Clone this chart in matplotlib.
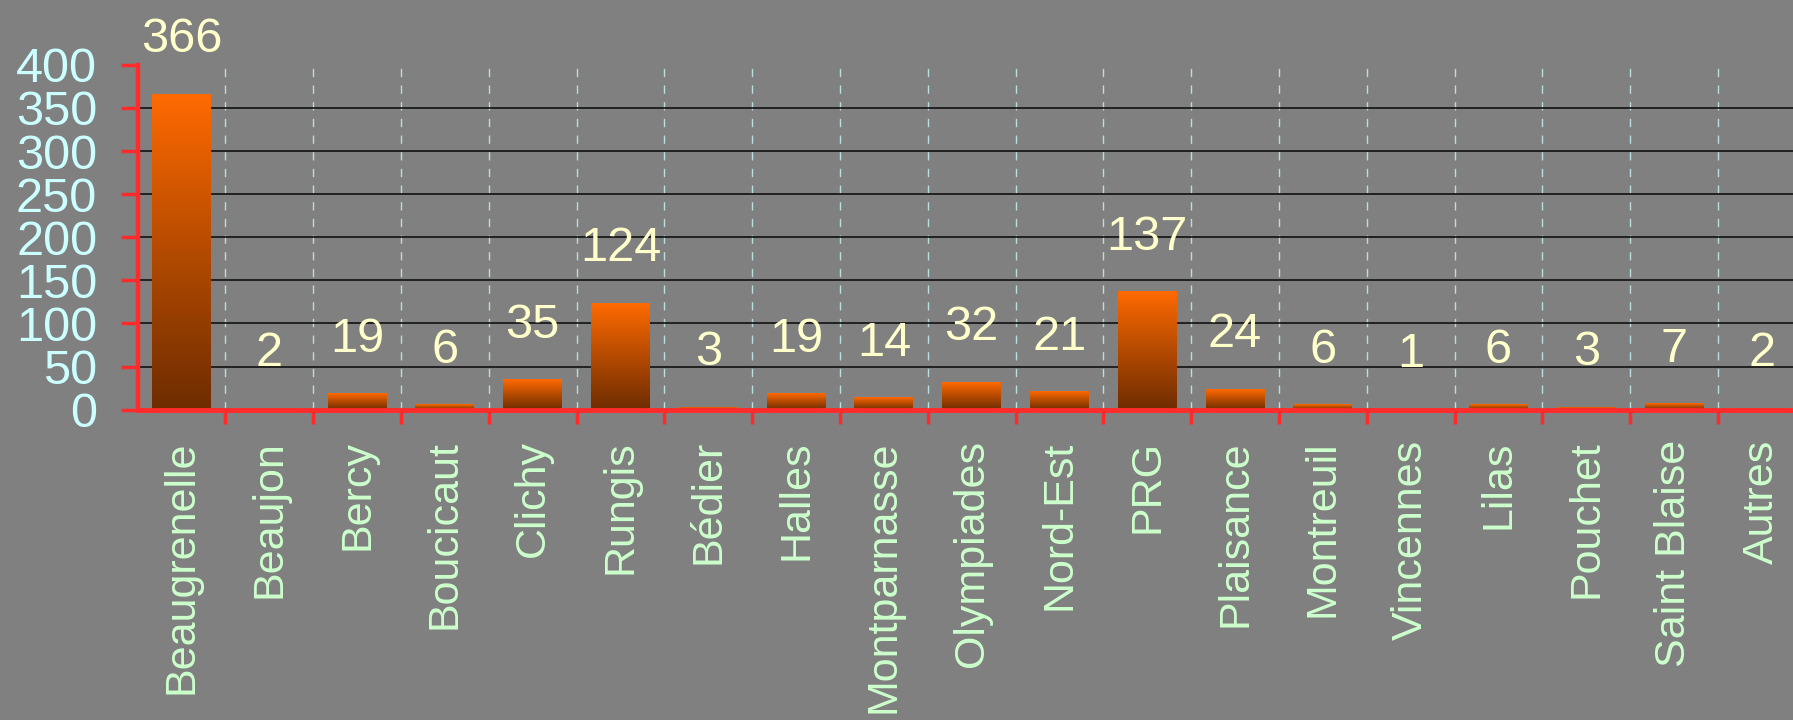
import numpy as np
import matplotlib.pyplot as plt
from matplotlib.colors import LinearSegmentedColormap

# Données
sites = ["Beaugrenelle", "Beaujon", "Bercy", "Boucicaut", "Clichy", "Rungis",
         "Bédier", "Halles", "Montparnasse", "Olympiades", "Nord-Est", "PRG",
         "Plaisance", "Montreuil", "Vincennes", "Lilas", "Pouchet",
         "Saint Blaise", "Autres"]
valeurs = [366, 2, 19, 6, 35, 124, 3, 19, 14, 32, 21, 137, 24, 6, 1, 6, 3, 7, 2]
graduations = [0, 50, 100, 150, 200, 250, 300, 350, 400]

plt.rcParams['font.family'] = ['Liberation Sans', 'DejaVu Sans']

fond = '#808080'
rouge = '#ff2a2a'
degrade = LinearSegmentedColormap.from_list('brun', ['#6e2c00', '#b44a00', '#ff6a00'])

fig = plt.figure(figsize=(17.93, 7.2), dpi=100, facecolor=fond)
ax = fig.add_axes([0.0767, 0.431, 0.9304, 0.479], facecolor=fond)

x = np.arange(len(sites))
largeur = 0.67
barres = ax.bar(x, valeurs, width=largeur, color='none', zorder=3)

# dégradé vertical dans chaque barre
grad = np.linspace(0, 1, 256).reshape(-1, 1)
for b in barres:
    x0, y0 = b.get_x(), b.get_y()
    w, h = b.get_width(), b.get_height()
    ax.imshow(grad, cmap=degrade, origin='lower', aspect='auto',
              extent=[x0, x0 + w, y0, y0 + h], zorder=3, interpolation='bilinear')

for xi, v in zip(x, valeurs):
    ax.annotate(str(v), (xi, v), xytext=(0, 39), textcoords='offset points',
                ha='center', va='center', fontsize=35, color='#ffffcc',
                annotation_clip=False, zorder=6)

ax.set_xlim(-0.5, len(sites) - 0.5)
ax.set_ylim(0, 400)

ax.set_yticks(graduations)
ax.set_yticklabels([str(g) for g in graduations])
ax.set_xticks(x)
ax.set_xticklabels(sites, rotation=90, va='top', ha='center')
ax.set_xticks(x[:-1] + 0.5, minor=True)

ax.tick_params(axis='y', colors=rouge, labelcolor='#ccffff', labelsize=35,
               length=12, width=2.5, pad=17, direction='out')
ax.tick_params(axis='x', which='major', length=0, labelcolor='#ccffcc',
               labelsize=31, pad=22)
ax.tick_params(axis='x', which='minor', colors=rouge, length=10, width=2.5,
               direction='out')

# grilles
ax.yaxis.grid(True, color='#111111', linewidth=1.2, zorder=1)
ax.get_ygridlines()[0].set_visible(False)
ax.get_ygridlines()[-1].set_visible(False)
ax.xaxis.grid(True, which='minor', color='#b8dede', linestyle=(0, (6, 6)),
              linewidth=1, zorder=1)
ax.xaxis.grid(False, which='major')
ax.set_axisbelow(True)

for cote in ['top', 'right']:
    ax.spines[cote].set_visible(False)
ax.spines['left'].set_color(rouge)
ax.spines['left'].set_linewidth(3.2)
ax.spines['bottom'].set_color(rouge)
ax.spines['bottom'].set_linewidth(3.5)
ax.spines['bottom'].set_zorder(4)

fig.savefig('out.png', dpi=100, facecolor=fond)
